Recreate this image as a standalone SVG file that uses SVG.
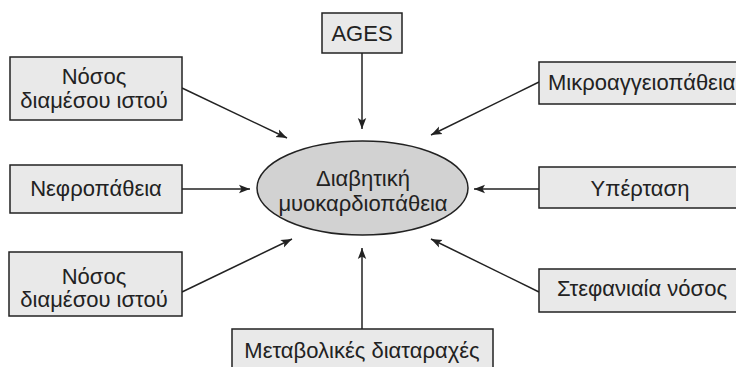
<svg xmlns="http://www.w3.org/2000/svg" width="736" height="367" viewBox="0 0 736 367">
<style>
.box{fill:#e9e9e9;stroke:#222;stroke-width:1.5}
.ell{fill:#d2d2d2;stroke:#222;stroke-width:1.5}
.t{font-family:"Liberation Sans","Noto Sans",sans-serif;font-size:22px;fill:#222;text-anchor:middle}
.c{stroke:#222;stroke-width:1.5;fill:none;marker-end:url(#ah)}
</style>
<defs>
<marker id="ah" markerWidth="12" markerHeight="10" refX="11" refY="5" orient="auto" markerUnits="userSpaceOnUse">
<path d="M0,0.8 L11,5 L0,9.2 L2.5,5 Z" fill="#222"/>
</marker>
</defs>
<rect width="736" height="367" fill="#fff"/>
<g id="connectors">
<line class="c" x1="362" y1="53" x2="362" y2="129"/>
<line class="c" x1="182" y1="88" x2="287" y2="138"/>
<line class="c" x1="182" y1="189" x2="250" y2="189"/>
<line class="c" x1="182" y1="292" x2="292" y2="239"/>
<line class="c" x1="362" y1="329" x2="362" y2="248"/>
<line class="c" x1="539" y1="82" x2="431" y2="135"/>
<line class="c" x1="539" y1="189" x2="474" y2="189"/>
<line class="c" x1="539" y1="292" x2="431" y2="239"/>
</g>
<g id="center">
<ellipse class="ell" cx="362.5" cy="188" rx="105.5" ry="47"/>
<text class="t" x="363" y="186">Διαβητική</text>
<text class="t" x="363" y="211">μυοκαρδιοπάθεια</text>
</g>
<g id="ages">
<rect class="box" x="322" y="13" width="80" height="40"/>
<text class="t" x="362" y="41">AGES</text>
</g>
<g id="nosos1">
<rect class="box" x="10" y="57" width="172" height="63"/>
<text class="t" x="94" y="84">Νόσος</text>
<text class="t" x="94" y="108">διαμέσου ιστού</text>
</g>
<g id="nefro">
<rect class="box" x="10" y="165" width="172" height="48"/>
<text class="t" x="96" y="196">Νεφροπάθεια</text>
</g>
<g id="nosos2">
<rect class="box" x="9" y="252" width="173" height="64"/>
<text class="t" x="94" y="284">Νόσος</text>
<text class="t" x="94" y="307">διαμέσου ιστού</text>
</g>
<g id="metab">
<rect class="box" x="232" y="329" width="261" height="50"/>
<text class="t" x="362" y="358">Μεταβολικές διαταραχές</text>
</g>
<g id="mikro">
<rect class="box" x="539" y="62" width="210" height="42"/>
<text class="t" x="548" y="90" style="text-anchor:start">Μικροαγγειοπάθεια</text>
</g>
<g id="yperta">
<rect class="box" x="539" y="167" width="210" height="41"/>
<text class="t" x="640" y="196">Υπέρταση</text>
</g>
<g id="stefan">
<rect class="box" x="539" y="269" width="210" height="43"/>
<text class="t" x="642" y="296">Στεφανιαία νόσος</text>
</g>
</svg>
